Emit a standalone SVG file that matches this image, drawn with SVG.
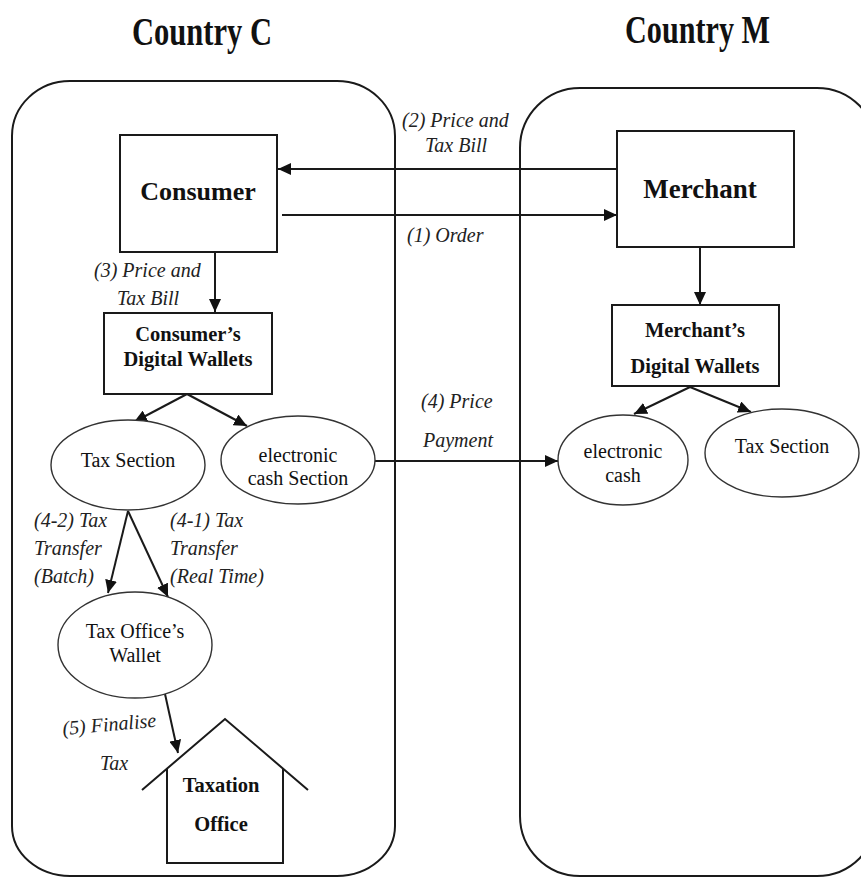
<svg xmlns="http://www.w3.org/2000/svg" width="861" height="878" viewBox="0 0 861 878">
  <style>
    .frame { fill: none; stroke: #1a1a1a; stroke-width: 2; }
    .box { fill: #fff; stroke: #1a1a1a; stroke-width: 2; }
    .oval { fill: #fff; stroke: #333; stroke-width: 1.4; }
    .edge { fill: none; stroke: #1a1a1a; stroke-width: 2; }
    .title { font-family: "Liberation Serif", "Times New Roman", serif; font-weight: bold; font-size: 40px; fill: #111; }
    .big { font-family: "Liberation Serif", "Times New Roman", serif; font-weight: bold; font-size: 26px; fill: #111; text-anchor: middle; }
    .bold { font-family: "Liberation Serif", "Times New Roman", serif; font-weight: bold; font-size: 20.5px; fill: #111; text-anchor: middle; }
    .plain { font-family: "Liberation Serif", "Times New Roman", serif; font-size: 20px; fill: #111; text-anchor: middle; }
    .lab { font-family: "Liberation Serif", "Times New Roman", serif; font-style: italic; font-size: 20px; fill: #222; }
  </style>
  <defs>
    <marker id="arrow" markerUnits="userSpaceOnUse" markerWidth="14" markerHeight="12" refX="13" refY="6" orient="auto">
      <path d="M0,0 L13,6 L0,12 Z" fill="#111"/>
    </marker>
  </defs>
  <rect width="861" height="878" fill="#fff"/>

  <!-- country regions -->
  <g id="countryC">
    <path class="frame" d="M70,81 H337 A58,55 0 0 1 395,136 V826 A58,50 0 0 1 337,876 H70 A58,50 0 0 1 12,826 V136 A58,55 0 0 1 70,81 Z"/>
    <text class="title" x="132" y="45" textLength="140" lengthAdjust="spacingAndGlyphs">Country C</text>
  </g>
  <g id="countryM">
    <path class="frame" d="M580,88 H817 A60,60 0 0 1 877,148 V816 A60,60 0 0 1 817,876 H580 A60,60 0 0 1 520,816 V148 A60,60 0 0 1 580,88 Z"/>
    <text class="title" x="625" y="43" textLength="145" lengthAdjust="spacingAndGlyphs">Country M</text>
  </g>

  <!-- connectors -->
  <g id="connectors">
    <line class="edge" x1="617" y1="169" x2="278" y2="169" marker-end="url(#arrow)"/>
    <line class="edge" x1="282" y1="215" x2="617" y2="215" marker-end="url(#arrow)"/>
    <line class="edge" x1="215" y1="252" x2="215" y2="312" marker-end="url(#arrow)"/>
    <line class="edge" x1="700" y1="247" x2="700" y2="305" marker-end="url(#arrow)"/>
    <line class="edge" x1="187" y1="394" x2="134" y2="422" marker-end="url(#arrow)"/>
    <line class="edge" x1="187" y1="394" x2="247" y2="426" marker-end="url(#arrow)"/>
    <line class="edge" x1="690" y1="387" x2="634" y2="414" marker-end="url(#arrow)"/>
    <line class="edge" x1="690" y1="387" x2="751" y2="412" marker-end="url(#arrow)"/>
    <line class="edge" x1="375" y1="461" x2="558" y2="461" marker-end="url(#arrow)"/>
    <line class="edge" x1="128" y1="511" x2="108" y2="593" marker-end="url(#arrow)"/>
    <line class="edge" x1="128" y1="511" x2="168" y2="597" marker-end="url(#arrow)"/>
    <line class="edge" x1="165" y1="694" x2="178" y2="753" marker-end="url(#arrow)"/>
  </g>

  <!-- connector labels -->
  <g id="labels">
    <text class="lab" x="402" y="127">(2) Price and</text>
    <text class="lab" x="425" y="152">Tax Bill</text>
    <text class="lab" x="407" y="242">(1) Order</text>
    <text class="lab" x="94" y="277">(3) Price and</text>
    <text class="lab" x="117" y="305">Tax Bill</text>
    <text class="lab" x="421" y="408">(4) Price</text>
    <text class="lab" x="423" y="447">Payment</text>
    <text class="lab" x="34" y="527">(4-2) Tax</text>
    <text class="lab" x="34" y="555">Transfer</text>
    <text class="lab" x="34" y="583">(Batch)</text>
    <text class="lab" x="170" y="527">(4-1) Tax</text>
    <text class="lab" x="170" y="555">Transfer</text>
    <text class="lab" x="170" y="583">(Real Time)</text>
    <text class="lab" x="63" y="735" transform="rotate(-5 63 735)">(5) Finalise</text>
    <text class="lab" x="100" y="770">Tax</text>
  </g>

  <!-- nodes -->
  <g id="consumer">
    <rect class="box" x="120" y="135" width="157" height="117"/>
    <text class="big" x="198" y="200">Consumer</text>
  </g>
  <g id="merchant">
    <rect class="box" x="617" y="131" width="177" height="116"/>
    <text class="big" x="700" y="198" style="font-size:27px">Merchant</text>
  </g>
  <g id="consumerWallets">
    <rect class="box" x="104" y="313" width="168" height="81"/>
    <text class="bold" x="188" y="341">Consumer’s</text>
    <text class="bold" x="188" y="366">Digital Wallets</text>
  </g>
  <g id="merchantWallets">
    <rect class="box" x="612" y="305" width="167" height="81"/>
    <text class="bold" x="695" y="337">Merchant’s</text>
    <text class="bold" x="695" y="373">Digital Wallets</text>
  </g>
  <g id="consumerTax">
    <ellipse class="oval" cx="128" cy="465" rx="77" ry="45"/>
    <text class="plain" x="128" y="467">Tax Section</text>
  </g>
  <g id="consumerCash">
    <ellipse class="oval" cx="298" cy="460" rx="77" ry="44"/>
    <text class="plain" x="298" y="462">electronic</text>
    <text class="plain" x="298" y="485">cash Section</text>
  </g>
  <g id="merchantCash">
    <ellipse class="oval" cx="623" cy="460" rx="65" ry="45"/>
    <text class="plain" x="623" y="458">electronic</text>
    <text class="plain" x="623" y="482">cash</text>
  </g>
  <g id="merchantTax">
    <ellipse class="oval" cx="782" cy="453" rx="77" ry="44"/>
    <text class="plain" x="782" y="453">Tax Section</text>
  </g>
  <g id="taxOfficeWallet">
    <ellipse class="oval" cx="135" cy="645" rx="77" ry="53"/>
    <text class="plain" x="135" y="638">Tax Office’s</text>
    <text class="plain" x="135" y="662">Wallet</text>
  </g>
  <g id="taxationOffice">
    <polyline class="edge" points="142,790 225,719 308,790"/>
    <polyline class="edge" points="167,769 167,863 283,863 283,769"/>
    <text class="bold" x="221" y="792">Taxation</text>
    <text class="bold" x="221" y="831">Office</text>
  </g>
</svg>
